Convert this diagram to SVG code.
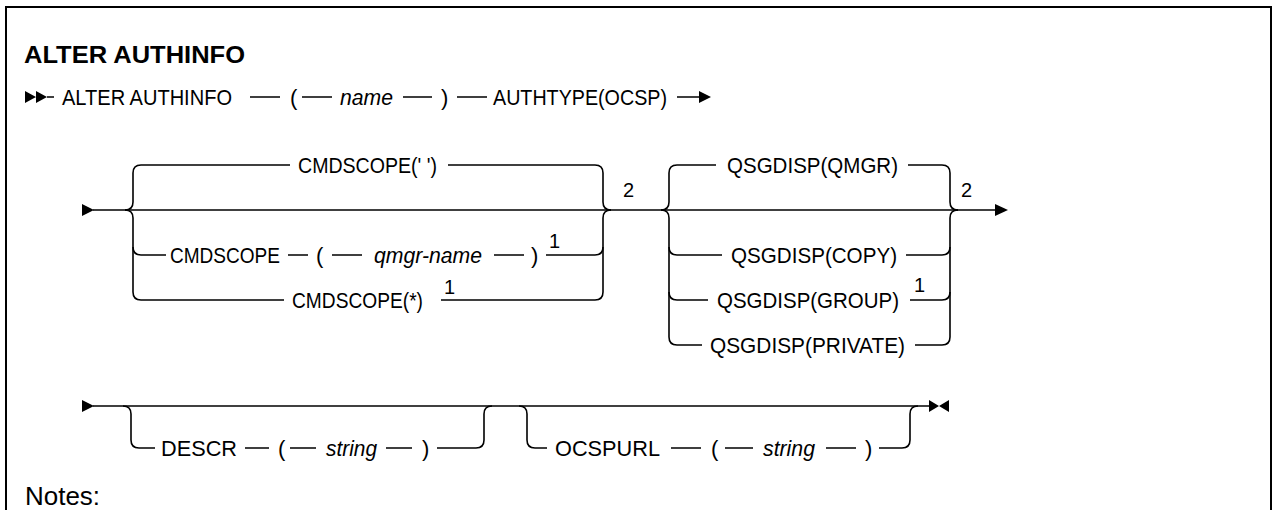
<svg xmlns="http://www.w3.org/2000/svg" width="1274" height="510" viewBox="0 0 1274 510">
<style>
text{font-family:"Liberation Sans",Arial,sans-serif;font-size:22px;fill:#000}
.title{font-weight:bold;font-size:23px}
.i{font-style:italic}
.sup{font-size:20px}
.notes{font-size:26px}
.c{fill:none;stroke:#000;stroke-width:1.6}
.ah{fill:#000;stroke:none}
</style>
<rect x="6" y="7" width="1265" height="520" fill="#fff" stroke="#000" stroke-width="2"/>
<text id="title" class="title" x="24" y="63" textLength="221" lengthAdjust="spacingAndGlyphs">ALTER AUTHINFO</text>
<g id="connectors">
<!-- line 1 -->
<path class="ah" d="M25,91 L36,97 L25,103 Z M36,91 L47,97 L36,103 Z"/>
<path class="c" d="M47,97 H54 M250,97 H280 M302,97 H332 M403,97 H432 M457,97 H487 M677,97 H700"/>
<path class="ah" d="M699,91 L711,97 L699,103 Z"/>
<!-- section 2 -->
<path class="ah" d="M82,204 L94,210 L82,216 Z"/>
<path class="c" d="M93,210 H996"/>
<path class="c" d="M125,210 Q133,210 133,202 V173 Q133,165 141,165 H290 M448,165 H595 Q603,165 603,173 V202 Q603,210 611,210"/>
<path class="c" d="M125,210 Q133,210 133,218 V292 Q133,300 141,300 H284 M441,300 H595 Q603,300 603,292 V218 Q603,210 611,210"/>
<path class="c" d="M133,247 Q133,255 141,255 H166 M288,255 H308 M332,255 H362 M494,255 H524 M546,255 H595 Q603,255 603,247"/>
<path class="c" d="M661,210 Q669,210 669,202 V173 Q669,165 677,165 H716 M908,165 H942 Q950,165 950,173 V202 Q950,210 958,210"/>
<path class="c" d="M661,210 Q669,210 669,218 V337 Q669,345 677,345 H702 M915,345 H942 Q950,345 950,337 V218 Q950,210 958,210"/>
<path class="c" d="M669,247 Q669,255 677,255 H722 M906,255 H942 Q950,255 950,247"/>
<path class="c" d="M669,292 Q669,300 677,300 H708 M910,300 H942 Q950,300 950,292"/>
<path class="ah" d="M995,204 L1008,210 L995,216 Z"/>
<!-- section 3 -->
<path class="ah" d="M82,400 L94,406 L82,412 Z"/>
<path class="c" d="M93,406 H930"/>
<path class="c" d="M123,406 Q131,406 131,414 V440 Q131,448 139,448 H155 M245,448 H269 M290,448 H316 M386,448 H412 M437,448 H476 Q484,448 484,440 V414 Q484,406 492,406"/>
<path class="c" d="M519,406 Q527,406 527,414 V440 Q527,448 535,448 H547 M671,448 H701 M725,448 H753 M826,448 H856 M879,448 H902 Q910,448 910,440 V414 Q910,406 918,406"/>
<path class="ah" d="M929,400 L939,406 L929,412 Z M949,400 L939,406 L949,412 Z"/>
</g>
<g id="n-alter"><text x="62" y="105" textLength="170" lengthAdjust="spacingAndGlyphs">ALTER AUTHINFO</text></g>
<g id="n-name"><text x="290" y="105">(</text><text class="i" x="340" y="105" textLength="53" lengthAdjust="spacingAndGlyphs">name</text><text x="441" y="105">)</text></g>
<g id="n-authtype"><text x="493" y="105" textLength="174" lengthAdjust="spacingAndGlyphs">AUTHTYPE(OCSP)</text></g>
<g id="n-cmdscope-blank"><text x="298" y="173" textLength="139" lengthAdjust="spacingAndGlyphs">CMDSCOPE(' ')</text></g>
<g id="n-cmdscope-qmgr"><text x="170" y="263" textLength="110" lengthAdjust="spacingAndGlyphs">CMDSCOPE</text><text x="316" y="263">(</text><text class="i" x="374" y="263" textLength="108" lengthAdjust="spacingAndGlyphs">qmgr-name</text><text x="531" y="263">)</text><text class="sup" x="549" y="248">1</text></g>
<g id="n-cmdscope-star"><text x="292" y="308" textLength="131" lengthAdjust="spacingAndGlyphs">CMDSCOPE(*)</text><text class="sup" x="444" y="294">1</text></g>
<g id="n-note2a"><text class="sup" x="623" y="197">2</text></g>
<g id="n-qmgr"><text x="727" y="173" textLength="171" lengthAdjust="spacingAndGlyphs">QSGDISP(QMGR)</text></g>
<g id="n-copy"><text x="731" y="263" textLength="166" lengthAdjust="spacingAndGlyphs">QSGDISP(COPY)</text></g>
<g id="n-group"><text x="717" y="308" textLength="182" lengthAdjust="spacingAndGlyphs">QSGDISP(GROUP)</text><text class="sup" x="914" y="292">1</text></g>
<g id="n-private"><text x="710" y="353" textLength="195" lengthAdjust="spacingAndGlyphs">QSGDISP(PRIVATE)</text></g>
<g id="n-note2b"><text class="sup" x="961" y="197">2</text></g>
<g id="n-descr"><text x="161" y="456" textLength="76" lengthAdjust="spacingAndGlyphs">DESCR</text><text x="278" y="456">(</text><text class="i" x="326" y="456" textLength="51" lengthAdjust="spacingAndGlyphs">string</text><text x="422" y="456">)</text></g>
<g id="n-ocspurl"><text x="555" y="456" textLength="105" lengthAdjust="spacingAndGlyphs">OCSPURL</text><text x="711" y="456">(</text><text class="i" x="763" y="456" textLength="52" lengthAdjust="spacingAndGlyphs">string</text><text x="865" y="456">)</text></g>
<text id="notes" class="notes" x="25" y="505" textLength="75" lengthAdjust="spacingAndGlyphs">Notes:</text>
</svg>
